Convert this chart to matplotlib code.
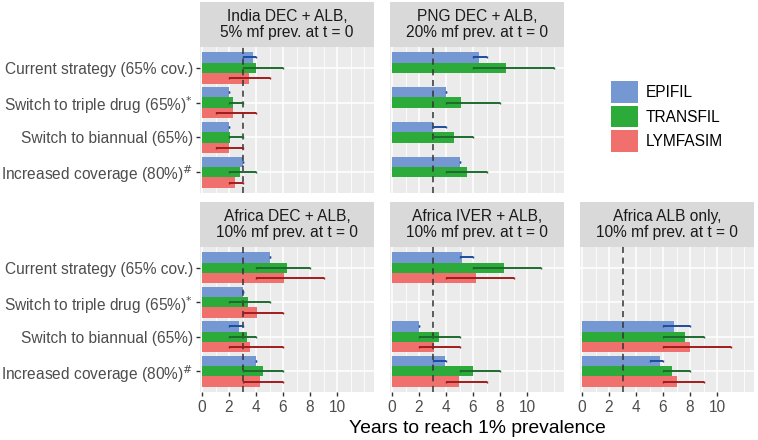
import numpy as np
import matplotlib
matplotlib.use("Agg")
import matplotlib.pyplot as plt

plt.rcParams['font.family'] = ['Liberation Sans', 'DejaVu Sans']

# données
strategies = ["Current strategy (65% cov.)",
              r"Switch to triple drug (65%)$^{*}$",
              "Switch to biannual (65%)",
              r"Increased coverage (80%)$^{\#}$"]
panels = ["India DEC + ALB,\n5% mf prev. at t = 0",
          "PNG DEC + ALB,\n20% mf prev. at t = 0",
          "Africa DEC + ALB,\n10% mf prev. at t = 0",
          "Africa IVER + ALB,\n10% mf prev. at t = 0",
          "Africa ALB only,\n10% mf prev. at t = 0"]
models = ["EPIFIL", "TRANSFIL", "LYMFASIM"]
nan = np.nan

# une ligne par panneau, une colonne par stratégie
epifil_mean = [[3.76, 2.0, 2.0, 3.02],
               [6.46, 4.02, 3.02, 5.0],
               [5.0, 3.0, 2.73, 4.0],
               [5.17, nan, 2.02, 3.9],
               [nan, nan, 6.8, 5.8]]
epifil_lo = [[3, 2, 2, 3], [6, 4, 3, 5], [5, 3, 2, 4], [5, nan, 2, 3], [nan, nan, 6, 5]]
epifil_hi = [[4, 2, 2, 3], [7, 4, 4, 5], [5, 3, 3, 4], [6, nan, 2, 4], [nan, nan, 8, 6]]

transfil_mean = [[4.0, 2.29, 2.1, 2.85],
                 [8.44, 5.1, 4.56, 5.59],
                 [6.27, 3.41, 3.32, 4.51],
                 [8.32, nan, 3.51, 5.98],
                 [nan, nan, 7.6, 6.7]]
transfil_lo = [[3, 2, 2, 2], [6, 4, 3, 4], [4, 2, 2, 3], [6, nan, 2, 5], [nan, nan, 6, 6]]
transfil_hi = [[6, 3, 3, 4], [12, 8, 6, 7], [8, 5, 4, 6], [11, nan, 5, 8], [nan, nan, 9, 8]]

lymfasim_mean = [[3.46, 2.32, 2.02, 2.46],
                 [nan, nan, nan, nan],
                 [6.05, 4.05, 3.56, 4.27],
                 [6.22, nan, 3.12, 4.98],
                 [nan, nan, 8.0, 7.0]]
lymfasim_lo = [[2, 1, 1, 2], [nan, nan, nan, nan], [4, 3, 2, 3], [4, nan, 2, 4], [nan, nan, 6, 6]]
lymfasim_hi = [[5, 4, 3, 3], [nan, nan, nan, nan], [9, 6, 6, 6], [9, nan, 5, 7], [nan, nan, 11, 9]]

threshold = 3

means = [epifil_mean, transfil_mean, lymfasim_mean]
los = [epifil_lo, transfil_lo, lymfasim_lo]
his = [epifil_hi, transfil_hi, lymfasim_hi]
bar_cols = ['#7597D2', '#2CAA3A', '#F0706E']
err_cols = ['#1B4C9E', '#1E6B2D', '#A01C1C']

W, H = 758, 440
fig = plt.figure(figsize=(W / 100, H / 100), dpi=100)

# position des panneaux (pixels)
col_left = [200, 390, 580]
pw = 174
rows = [(47, 193), (247, 392)]   # haut, bas du panneau
strip_h = 45
where = [(0, 0), (0, 1), (1, 0), (1, 1), (1, 2)]

def px_axes(x0, y_top, w, h):
    return fig.add_axes([x0 / W, 1 - (y_top + h) / H, w / W, h / H])

bar_handles = []
for p, (r, c) in enumerate(where):
    top, bot = rows[r]
    ax = px_axes(col_left[c], top, pw, bot - top)
    ax.set_facecolor('#EBEBEB')
    ax.set_xlim(-0.15, 12.74)
    ax.set_ylim(3.6, -0.6)
    for v in range(0, 13):
        ax.axvline(v, color='white', lw=1.1 if (v % 2 == 0 and v <= 10) else 0.55, zorder=0)
    for k in range(4):
        ax.axhline(k, color='white', lw=1.1, zorder=0)
    for m in range(3):
        y = np.arange(4) + (m - 1) * 0.3
        mu = np.array(means[m][p], dtype=float)
        lo = np.array(los[m][p], dtype=float)
        hi = np.array(his[m][p], dtype=float)
        ok = ~np.isnan(mu)
        if ok.any():
            b = ax.barh(y[ok], mu[ok], height=0.3, color=bar_cols[m], zorder=2)
            if len(bar_handles) < 3 and m == len(bar_handles):
                bar_handles.append(b)
            mid = (lo[ok] + hi[ok]) / 2
            ax.errorbar(mid, y[ok], xerr=(hi[ok] - lo[ok]) / 2, fmt='none',
                        ecolor=err_cols[m], elinewidth=1.4, capsize=1.0, capthick=1.0, zorder=4)
    ax.axvline(threshold, color='#333333', lw=1.1, ls=(0, (4, 3)), zorder=3)
    for s in ax.spines.values():
        s.set_visible(False)
    ax.set_yticks(range(4))
    if c == 0:
        ax.set_yticklabels(strategies, fontsize=11.2, color='#4D4D4D')
        ax.tick_params(axis='y', length=3, width=1, color='#333333', pad=2)
    else:
        ax.tick_params(axis='y', length=0, labelleft=False)
    ax.set_xticks(range(0, 11, 2))
    if r == 1:
        ax.tick_params(axis='x', length=3, width=1, color='#333333', pad=3,
                       labelsize=11.2, labelcolor='#4D4D4D')
    else:
        ax.tick_params(axis='x', length=0, labelbottom=False)

    sx = px_axes(col_left[c], top - strip_h, pw, strip_h)
    sx.set_facecolor('#D9D9D9')
    sx.set_xticks([])
    sx.set_yticks([])
    for s in sx.spines.values():
        s.set_visible(False)
    sx.text(0.5, 0.5, panels[p], ha='center', va='center', fontsize=11.2,
            color='#1A1A1A', linespacing=1.1, transform=sx.transAxes)

fig.text(477 / W, 1 - 428 / H, "Years to reach 1% prevalence", ha='center', va='center',
         fontsize=13.9)

fig.legend([h[0] for h in bar_handles], models, loc='upper left',
           bbox_to_anchor=(611 / W, 1 - 81 / H), frameon=False, fontsize=11.2,
           handlelength=1.76, handleheight=1.76, labelspacing=0.2, handletextpad=0.45,
           borderpad=0, borderaxespad=0)

fig.savefig("out.png", dpi=100)
